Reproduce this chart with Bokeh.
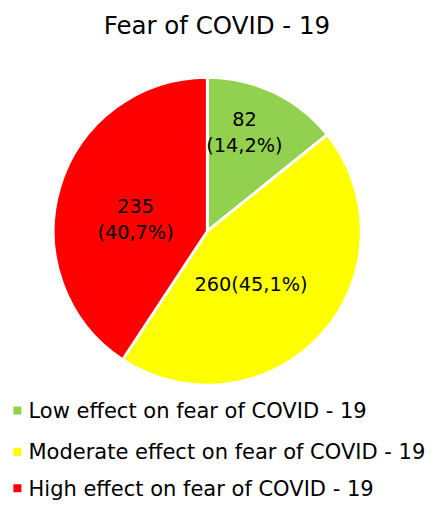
import math
from bokeh.plotting import figure
from bokeh.models import Range1d, ColumnDataSource
from bokeh.core.properties import value
from bokeh.embed import file_html
from bokeh.resources import INLINE

# ---- data ----
title_text = "Fear of COVID - 19"
categories = ["Low effect on fear of COVID - 19",
              "Moderate effect on fear of COVID - 19",
              "High effect on fear of COVID - 19"]
counts = [82, 260, 235]
percent_labels = ["14,2%", "45,1%", "40,7%"]
colors = ["#92D050", "#FFFF00", "#FF0000"]

# ---- layout / style (canvas pixels, y measured from the top) ----
W, H = 430, 505
FONT = "DejaVu Sans"
cx, cy_top, R = 206.8, 230.7, 154.0
label_r = [0.683, 0.446, 0.472]
label_nudge = [4.9, -8.2, 7.5]  # degrees from the slice's mid angle
label_multiline = [True, False, True]
SHIFT = 0.36  # observed downward shift of single-line svg text, in em


def Y(top):
    return H - top


p = figure(width=W, height=H, x_range=Range1d(0, W), y_range=Range1d(0, H),
           output_backend="svg", toolbar_location=None, min_border=0)
p.axis.visible = False
p.grid.visible = False
p.outline_line_color = None
p.background_fill_color = "white"
p.border_fill_color = "white"

cy = Y(cy_top)
total = sum(counts)
starts, ends, lx, ly, ltext = [], [], [], [], []
cum = 0
for i, c in enumerate(counts):
    a0 = math.pi / 2 - 2 * math.pi * cum / total
    cum += c
    a1 = math.pi / 2 - 2 * math.pi * cum / total
    starts.append(a0)
    ends.append(a1)
    mid = (a0 + a1) / 2 + math.radians(label_nudge[i])
    lx.append(cx + label_r[i] * R * math.cos(mid))
    ly.append(cy + label_r[i] * R * math.sin(mid))
    sep = "\n" if label_multiline[i] else ""
    ltext.append(f"{c}{sep}({percent_labels[i]})")

src = ColumnDataSource(dict(start=starts, end=ends, color=colors))
p.wedge(x=cx, y=cy, radius=R, start_angle="start", end_angle="end",
        direction="clock", fill_color="color", line_color="white",
        line_width=2.9, source=src)

p.text(x=lx, y=ly, text=ltext, text_font=value(FONT), text_font_size="19.3px",
       text_align="center", text_baseline="middle", text_color="black",
       text_line_height=1.12)

# title
TS = 24.5
p.text(x=[216.4], y=[Y(33.9 - SHIFT * TS)], text=[title_text],
       text_font=value(FONT), text_font_size=f"{TS}px", text_align="center",
       text_baseline="alphabetic", text_color="black")

# legend
LS = 21.0
base_top = [418.4, 459.5, 496.0]
p.rect(x=[16.9] * 3, y=[Y(b - 8.3) for b in base_top], width=8, height=8,
       fill_color=colors, line_color=None)
p.text(x=[28.0] * 3, y=[Y(b - SHIFT * LS) for b in base_top], text=categories,
       text_font=value(FONT), text_font_size=f"{LS}px", text_align="left",
       text_baseline="alphabetic", text_color="black")

open("out.html", "w").write(file_html(p, INLINE))
